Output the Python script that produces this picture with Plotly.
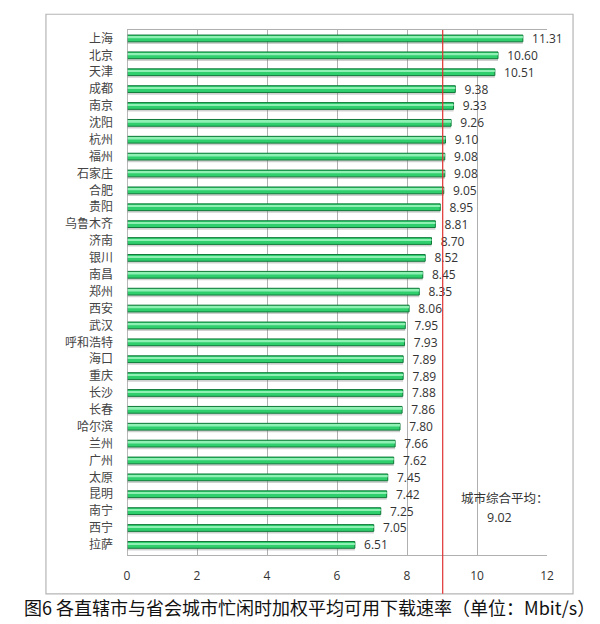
import plotly.graph_objects as go

cities = ["上海", "北京", "天津", "成都", "南京", "沈阳", "杭州", "福州", "石家庄", "合肥",
          "贵阳", "乌鲁木齐", "济南", "银川", "南昌", "郑州", "西安", "武汉", "呼和浩特", "海口",
          "重庆", "长沙", "长春", "哈尔滨", "兰州", "广州", "太原", "昆明", "南宁", "西宁", "拉萨"]
speeds = [11.31, 10.60, 10.51, 9.38, 9.33, 9.26, 9.10, 9.08, 9.08, 9.05,
          8.95, 8.81, 8.70, 8.52, 8.45, 8.35, 8.06, 7.95, 7.93, 7.89,
          7.89, 7.88, 7.86, 7.80, 7.66, 7.62, 7.45, 7.42, 7.25, 7.05, 6.51]
x_ticks = [0, 2, 4, 6, 8, 10, 12]
average = 9.02
avg_title = "城市综合平均："
avg_value = "9.02"
caption = "图6 各直辖市与省会城市忙闲时加权平均可用下载速率（单位：Mbit/s）"

idx = list(range(len(cities)))
FONT = "Noto Sans CJK SC"

fig = go.Figure()
# shadow layer
fig.add_trace(go.Bar(
    x=speeds, y=[i + 0.12 for i in idx], orientation="h", width=0.42,
    marker=dict(color="rgba(120,120,120,0.35)", line=dict(width=0)),
    hoverinfo="skip", showlegend=False,
))
fig.add_trace(go.Bar(
    x=speeds, y=idx, orientation="h", width=0.4,
    marker=dict(color="#2fcf6e", line=dict(color="#117a3a", width=1)),
    text=[f"  {v:.2f}" for v in speeds], textposition="outside",
    constraintext="none",
    textfont=dict(family="Open Sans", size=12, color="#333333"),
    cliponaxis=False, showlegend=False,
))
# highlight stripe on bars
fig.add_trace(go.Bar(
    x=speeds, y=[i - 0.06 for i in idx], orientation="h", width=0.1,
    marker=dict(color="#8ff0b4", line=dict(width=0)),
    hoverinfo="skip", showlegend=False,
))

fig.update_layout(
    width=600, height=624,
    margin=dict(l=127, r=53, t=30, b=69),
    paper_bgcolor="white", plot_bgcolor="white",
    barmode="overlay",
    font=dict(family=FONT, size=13, color="#333333"),
    xaxis=dict(range=[0, 12], tickvals=x_ticks, showgrid=True, gridcolor="#b0b0b0",
               gridwidth=1, zeroline=False, showline=True, linecolor="#b0b0b0",
               mirror=True, ticks="", tickfont=dict(family="Open Sans", size=12, color="#333333"),
               ticklabelstandoff=10),
    yaxis=dict(range=[30.6, -0.5], tickvals=idx, ticktext=cities, showgrid=False,
               zeroline=False, showline=False, ticks="", ticklabelstandoff=13,
               tickfont=dict(family=FONT, size=12, color="#444444")),
    shapes=[
        dict(type="line", xref="x", yref="paper", x0=average, x1=average, y0=-0.074, y1=1.0,
             line=dict(color="#e03030", width=1.2)),
        dict(type="line", xref="x", yref="paper", x0=0, x1=0, y0=0, y1=1.0,
             line=dict(color="#a0a0a0", width=1.5)),
        dict(type="rect", xref="paper", yref="paper", x0=-0.193, x1=1.062, y0=-0.074, y1=1.03,
             line=dict(color="#b5b5b5", width=1.2), fillcolor="rgba(0,0,0,0)", layer="below"),
    ],
    annotations=[
        dict(text=avg_title, x=10.8, y=27.2, xref="x", yref="y", showarrow=False,
             font=dict(family=FONT, size=12.5, color="#333333"), align="center"),
        dict(text=avg_value, x=10.65, y=28.38, xref="x", yref="y", showarrow=False,
             font=dict(family="Open Sans", size=12.5, color="#333333"), align="center"),
        dict(text=caption, x=-0.25, y=-0.099, xref="paper", yref="paper", showarrow=False,
             xanchor="left", yanchor="middle", font=dict(family=FONT, size=18, color="#111111")),
    ],
)

fig.write_html("out.html", config={"displayModeBar": False},
               post_script="document.body.style.margin='0';")
